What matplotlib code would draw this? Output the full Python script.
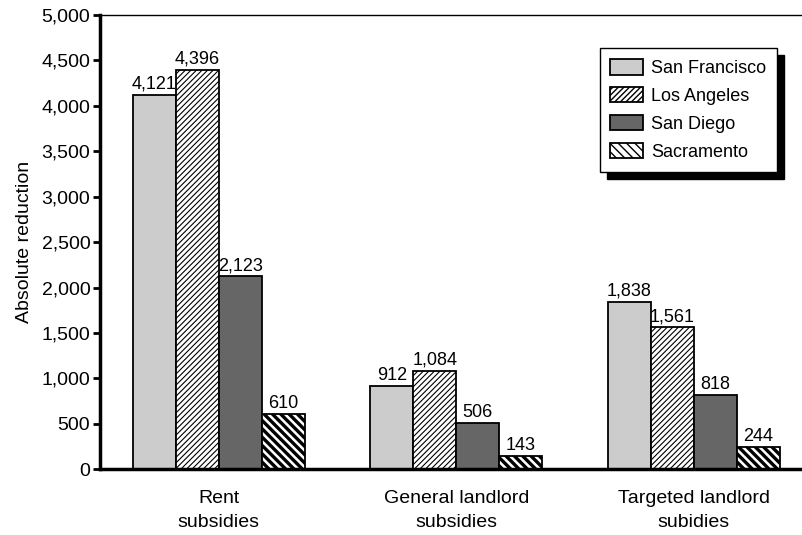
import numpy as np
import matplotlib.pyplot as plt
import matplotlib.ticker as mticker

plt.rcParams['font.family'] = ['Liberation Sans', 'DejaVu Sans']

categories = ['Rent\nsubsidies', 'General landlord\nsubsidies', 'Targeted landlord\nsubidies']
cities = ['San Francisco', 'Los Angeles', 'San Diego', 'Sacramento']
san_francisco = [4121, 912, 1838]
los_angeles = [4396, 1084, 1561]
san_diego = [2123, 506, 818]
sacramento = [610, 143, 244]

series = [san_francisco, los_angeles, san_diego, sacramento]
faces = ['#cccccc', 'white', '#666666', 'white']
hatches = [None, '//////', None, '\\\\\\\\']
hatch_lw = [1.0, 0.8, 1.0, 2.4]

fig = plt.figure(figsize=(8.03, 5.35), dpi=100)
ax = fig.add_axes([0.1245, 0.123, 0.8755, 0.849])

x = np.arange(len(categories))
w = 0.181
for i, vals in enumerate(series):
    pos = x + (i - 1.5) * w
    bars = ax.bar(pos, vals, w, color=faces[i], edgecolor='black', linewidth=1.3,
                  hatch=hatches[i], label=cities[i])
    for b in bars:
        b.set_hatch_linewidth(hatch_lw[i])
    for p, v in zip(pos, vals):
        ax.text(p, v + 25, f'{v:,}', ha='center', va='bottom', fontsize=13)

ax.set_xlim(-0.5, 2.46)
ax.set_ylim(0, 5000)
ax.set_yticks(np.arange(0, 5001, 500))
ax.yaxis.set_major_formatter(mticker.FuncFormatter(lambda v, p: f'{int(v):,}'))
ax.set_xticks(x)
ax.set_xticklabels(categories, fontsize=14, linespacing=1.5)
ax.tick_params(axis='x', length=0, pad=15)
ax.tick_params(axis='y', direction='out', length=5, width=2, labelsize=14, pad=2)
ax.set_ylabel('Absolute reduction', fontsize=14, labelpad=6)

ax.spines['right'].set_visible(False)
ax.spines['left'].set_linewidth(2.5)
ax.spines['bottom'].set_linewidth(2.5)
ax.spines['top'].set_linewidth(1.0)

leg = ax.legend(loc='upper right', bbox_to_anchor=(0.963, 0.927), fancybox=False,
                edgecolor='black', framealpha=1, fontsize=13,
                shadow={'color': 'black', 'alpha': 1, 'ox': 5, 'oy': -5},
                handlelength=1.8, handleheight=0.95, handletextpad=0.45,
                borderpad=0.6, labelspacing=0.55, borderaxespad=0)
leg.get_frame().set_linewidth(1.0)

fig.savefig('out.png', dpi=100)
